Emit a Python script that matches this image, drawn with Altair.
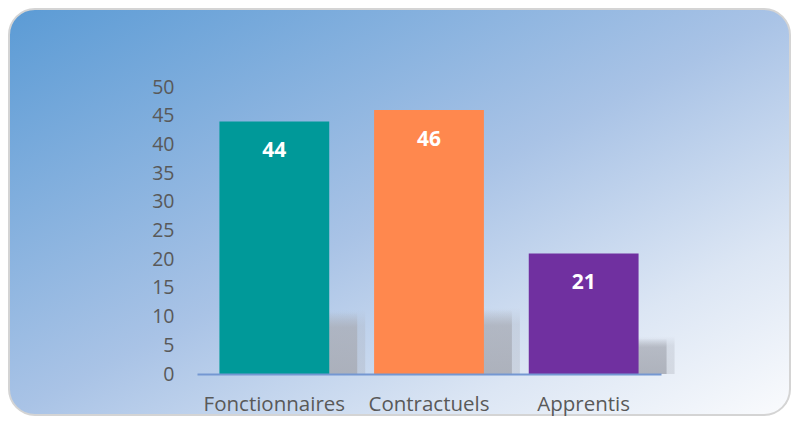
import altair as alt
import pandas as pd

categories = ["Fonctionnaires", "Contractuels", "Apprentis"]
values = [44, 46, 21]
bar_colors = ["#009999", "#FF884E", "#7030A0"]
y_ticks = [0, 5, 10, 15, 20, 25, 30, 35, 40, 45, 50]

df = pd.DataFrame({"cat": categories, "value": values, "color": bar_colors})

W, H = 464, 287
PL, PT, PR, PB = 189, 79, 130, 42
FONT = "Open Sans"

x_enc = alt.X("cat:N", sort=categories,
              scale=alt.Scale(paddingInner=0.29, paddingOuter=0.145),
              axis=alt.Axis(title=None, labelAngle=0, ticks=False, tickSize=0,
                            domain=True, domainColor="#7497D2", domainWidth=2,
                            labelFont=FONT, labelFontSize=20.5, labelColor="#595959",
                            labelPadding=20, grid=False, zindex=2))
y_scale = alt.Scale(domain=[0, 50])
y_axis = alt.Axis(title=None, values=y_ticks, ticks=False,
                  tickSize=0, domain=False, grid=False, labelOverlap=False,
                  labelFont=FONT, labelFontSize=19.5, labelColor="#595959",
                  labelPadding=23, zindex=2)

bg_grad = alt.Gradient(
    gradient="linear", x1=0, y1=0, x2=1, y2=1,
    stops=[alt.GradientStop(color="#5B9BD5", offset=0),
           alt.GradientStop(color="#A9C3E6", offset=0.5),
           alt.GradientStop(color="#DCE6F4", offset=0.78),
           alt.GradientStop(color="#FAFBFD", offset=1)])

background = alt.Chart(pd.DataFrame({"a": [0]})).mark_rect(
    fill=bg_grad, stroke="#D4D4D4", strokeWidth=2, cornerRadius=26
).encode(
    x=alt.value(-PL + 1), x2=alt.value(W + PR - 1),
    y=alt.value(-PT + 1), y2=alt.value(H + PB - 1)
)

shadow_grad = alt.Gradient(
    gradient="linear", x1=0, y1=0, x2=0, y2=1,
    stops=[alt.GradientStop(color="rgba(170,174,184,0)", offset=0),
           alt.GradientStop(color="rgba(170,174,184,0.8)", offset=0.25),
           alt.GradientStop(color="rgba(168,172,182,0.95)", offset=1)])

base = alt.Chart(df)

shadow_outer = base.transform_calculate(sh="datum.value * 0.2 + 2.4").mark_bar(
    fill=shadow_grad, opacity=0.35, xOffset=36
).encode(x=x_enc, y=alt.Y("sh:Q", scale=y_scale, axis=y_axis))

shadow = base.transform_calculate(sh="datum.value * 0.2 + 2.0").mark_bar(
    fill=shadow_grad, opacity=0.9, xOffset=28
).encode(x=x_enc, y=alt.Y("sh:Q", scale=y_scale, axis=y_axis))

bars = base.mark_bar().encode(
    x=x_enc,
    y=alt.Y("value:Q", scale=y_scale, axis=y_axis),
    color=alt.Color("color:N", scale=None),
)

labels = base.mark_text(
    dy=30, baseline="middle", align="center", font=FONT, fontSize=21,
    fontWeight="bold", color="white"
).encode(x=x_enc, y=alt.Y("value:Q", scale=y_scale, axis=y_axis), text="value:Q")

chart = alt.layer(background, shadow_outer, shadow, bars, labels).properties(
    width=W, height=H,
    autosize=alt.AutoSizeParams(type="none"),
    padding={"left": PL, "top": PT, "right": PR, "bottom": PB},
    background="white",
).configure_view(stroke=None)

chart.save("out.html", embed_options={"renderer": "svg", "actions": False})
